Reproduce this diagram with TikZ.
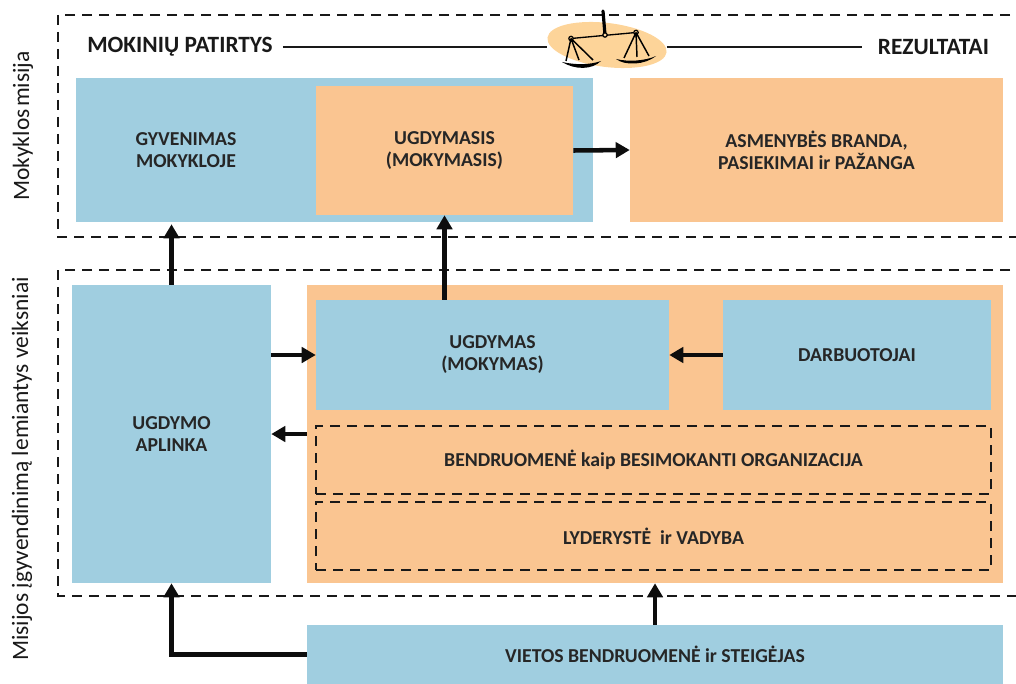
\documentclass[tikz,border=0pt]{standalone}
\usepackage{fontspec}
\setmainfont{Carlito}
\usetikzlibrary{arrows.meta,shapes.geometric}
\definecolor{melyna}{RGB}{160,206,224}
\definecolor{oranzine}{RGB}{250,197,145}
\definecolor{svarstykles}{RGB}{253,212,153}
\tikzset{melynas/.style={fill=melyna,inner sep=0pt,align=center,font=\bfseries\fontsize{14.8}{16.5}\selectfont,text=black!85},
         oranzinis/.style={melynas,fill=oranzine},
         remas/.style={draw=black!90,line width=1.9pt,dash pattern=on 7.5pt off 5.25pt},
         rodykle/.style={line width=3.4pt,black!95,-{Triangle[length=10.5pt,width=11.5pt]}},
         linija/.style={line width=1.3pt,black!90},
         antraste/.style={inner sep=0pt,font=\bfseries\fontsize{17.5}{19}\selectfont,text=black!90},
         sonas/.style={inner sep=0pt,rotate=90,font=\fontsize{17.6}{19}\selectfont,text=black!90}}
\newcommand{\langelis}[6]{\node[#1,minimum width=#4*0.75pt-#2*0.75pt,minimum height=#5*0.75pt-#3*0.75pt] (#6) at ({(#2+#4)/2},{(#3+#5)/2})}
\begin{document}
\begin{tikzpicture}[x=0.75pt,y=-0.75pt]
    \useasboundingbox (0,0) rectangle (1016,684);
    %misijos dalis
    \langelis{melynas}{76}{78}{593}{222}{gyvenimas} {};
    \node[melynas,fill=none] (gyvenimastxt) at (186,150) {GYVENIMAS\\MOKYKLOJE};
    \langelis{oranzinis}{316}{86}{573}{215}{ugdymasis} {UGDYMASIS\\(MOKYMASIS)};
    \langelis{oranzinis}{630}{78}{1003}{222}{branda} {ASMENYBĖS BRANDA,\\PASIEKIMAI ir PAŽANGA};
    %veiksniai
    \langelis{melynas}{72}{285}{271}{583}{aplinka} {UGDYMO\\APLINKA};
    \langelis{oranzinis}{307}{285}{1003}{583}{veiksniai} {};
    \langelis{melynas}{316}{300}{669}{410}{ugdymas} {UGDYMAS\\(MOKYMAS)};
    \langelis{melynas}{723}{300}{991}{410}{darbuotojai} {DARBUOTOJAI};
    \langelis{oranzinis,remas}{316}{426}{991}{494}{organizacija} {BENDRUOMENĖ kaip BESIMOKANTI ORGANIZACIJA};
    \langelis{oranzinis,remas}{316}{502}{991}{570}{lyderyste} {LYDERYSTĖ\ \ ir VADYBA};
    \langelis{melynas}{307}{625}{1003}{684}{vietos} {VIETOS BENDRUOMENĖ ir STEIGĖJAS};
    %remai be desines krastines
    \coordinate (misija1) at (1010,15);
    \coordinate (misija2) at (58,15);
    \coordinate (misija3) at (58,237);
    \coordinate (misija4) at (1016,237);
    \coordinate (veik1) at (1010,270);
    \coordinate (veik2) at (58,270);
    \coordinate (veik3) at (58,596);
    \coordinate (veik4) at (1016,596);
    \draw[remas] (misija1)--(misija2)--(misija3)--(misija4);
    \draw[remas] (veik1)--(veik2)--(veik3)--(veik4);
    %antrastes
    \node[antraste] (patirtys) at (180,47) {MOKINIŲ PATIRTYS};
    \node[antraste] (rezultatai) at (933.5,47) {REZULTATAI};
    \node[sonas] (misija) at (23,126) {Mokyklos \hspace{-2pt}misija};
    \node[sonas] (lemia) at (22,469) {Misijos įgyvendinimą lemiantys veiksniai};
    %svarstykles
    \node[fill=svarstykles,ellipse,inner sep=0pt,minimum width=90pt,minimum height=33pt,rotate=-7] (fonas) at (607,45) {};
    \draw[linija] ([xshift=7.5pt]patirtys.east)--(patirtys.east -| fonas.west);
    \draw[linija] (rezultatai.west -| fonas.east)--([xshift=-12pt]rezultatai.west);
    \coordinate (virsus) at (603,11);
    \coordinate (vidurys) at (605,35);
    \coordinate (kaire) at (571,38.5);
    \coordinate (desine) at (636,32.5);
    \draw[line width=2.4pt,line cap=round] (virsus)--(vidurys);
    \draw[line width=1pt] (kaire)--(desine);
    \foreach \t in {kaire,vidurys,desine}
      \draw[black,fill=svarstykles,line width=0.9pt] (\t) circle [radius=2.2];
    \draw[line width=1.1pt] (kaire)--(566,61) (kaire)--(579,60) (kaire)--(593,60);
    \draw[line width=1.1pt] (desine)--(624,58) (desine)--(637,57) (desine)--(649,56);
    \fill[black] (562,62) .. controls (575,70) and (592,70) .. (601,61) .. controls (590,65) and (575,65) .. cycle;
    \fill[black] (616,59) .. controls (625,66) and (645,65) .. (656,56) .. controls (645,61) and (628,62) .. cycle;
    %rodykles
    \draw[rodykle] (ugdymasis.east)--(branda.west);
    \draw[rodykle,shorten >=1.5pt] (aplinka.north)--(aplinka.north |- gyvenimas.south);
    \draw[rodykle] (ugdymasis.south |- ugdymas.north)--(ugdymasis.south);
    \draw[rodykle] (aplinka.east |- ugdymas.west)--(ugdymas.west);
    \draw[rodykle] (darbuotojai.west)--(ugdymas.east);
    \draw[rodykle] (veiksniai.west)--(aplinka.east);
    \draw[rodykle] (vietos.north)--(veiksniai.south);
    \draw[rodykle] (vietos.west)-|(aplinka.south);
\end{tikzpicture}
\end{document}
